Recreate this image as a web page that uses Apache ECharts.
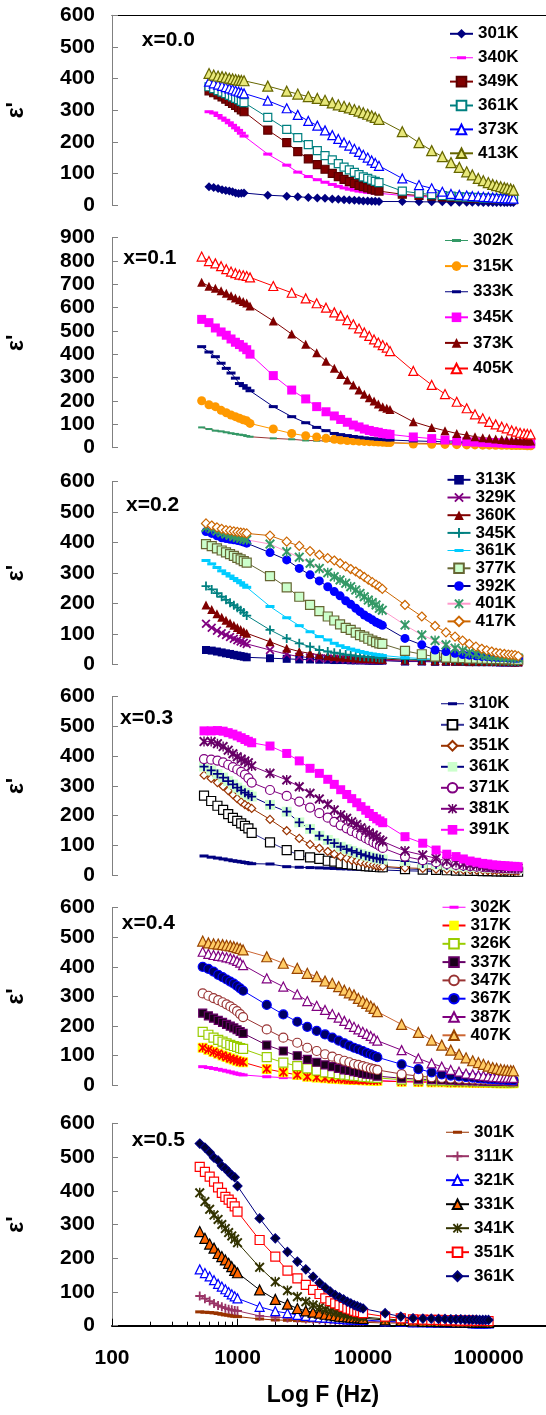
<!DOCTYPE html>
<html>
<head>
<meta charset="utf-8">
<script src="https://cdn.jsdelivr.net/npm/echarts@6/dist/echarts.min.js"></script>
<style>
  html, body { margin: 0; padding: 0; background: #fff; }
  #chart { width: 546px; height: 1415px; }
</style>
</head>
<body>
<div id="chart"></div>
<script>
// ---------- frequencies (Hz) for each composition ----------
const F1 = [593,646,700,753,806,860,913,966,1020,1073,1127,
  1742,2467,3020,3665,4325,4980,5690,6355,7060,7780,8530,9290,10050,10900,11720,12520,13400,
  20560,27930,35240,42840,50230,58500,66990,74300,82900,90900,99600,108000,116000,125000,133600,141000,150000,158000];
const F2 = [518,592,666,740,814,888,962,1036,1110,1184,1258,
  1928,2702,3494,4272,5070,5904,6638,7497,8372,9293,10240,11220,12240,13240,14350,15450,16410,
  25160,35260,45000,55800,67000,78000,89900,101400,114000,127400,139600,153000,165700,178300,191800,203800,216800];
const F3 = [561,623,686,748,810,872,935,997,1059,1122,1184,
  1815,2466,3105,3784,4487,5236,5902,6561,7278,7980,8750,9462,10233,11015,11858,12700,13490,14250,
  21600,29400,37500,45800,54100,62200,70300,79400,88300,96800,106000,114800,123600,133700,143900,153100,162600,172600];
const F4 = [541,617,692,768,843,919,995,1070,1146,1221,1297,
  1815,2466,3105,3784,4487,5236,5902,6638,7413,8128,8913,9638,10510,11220,12080,12850,13650,14350,
  21600,29900,38200,46500,55100,63000,71300,80500,89900,98600,107900,116100,125900,135200,143900,153100,162600,172000];
const F5 = [528,586,644,702,760,818,876,934,992,1050,1108,
  1710,2317,2992,3597,4276,4980,5690,6397,7096,7780,8472,9183,9950,10700,11520,12240,13000,
  20300,27600,35200,42400,50000,58200,66200,74800,83000,91000,99500,107900,116100,125000,133600,141300,150300,157800];
const F6 = [500,550,600,650,700,750,800,850,900,950,1000,
  1500,2000,2500,3000,3500,4000,4500,5000,5500,6000,6500,7000,7500,8000,8500,9000,9500,10000,
  15000,20000,25000,30000,35000,40000,45000,50000,55000,60000,65000,70000,75000,80000,85000,90000,95000,100000];

// ---------- composition labels and measuring temperatures ----------
const X_LABELS = ['x=0.0','x=0.1','x=0.2','x=0.3','x=0.4','x=0.5'];
const T1 = ['301K','340K','349K','361K','373K','413K'];
const T2 = ['302K','315K','333K','345K','373K','405K'];
const T3 = ['313K','329K','360K','345K','361K','377K','392K','401K','417K'];
const T4 = ['310K','341K','351K','361K','371K','381K','391K'];
const T5 = ['302K','317K','326K','337K','347K','367K','387K','407K'];
const T6 = ['301K','311K','321K','331K','341K','351K','361K'];

// ---------- ε' values, x = 0.0 ----------
const P1_301 = [58,55,52,48,46,44,42,38,36,37,38, 31,28,26,24,22,21,19,18,17,16,15,14,13,13,12,12,11, 11,10,10,10,9,9,9,9,9,8,8,8,8,8,8,8,8,8];
const P1_340 = [295,291,283,275,268,260,252,244,236,227,218, 161,126,104,90,80,72,65,59,54,50,47,44,42,40,39,38,37, 30,27,25,23,22,21,20,19,19,18,18,17,17,16,16,16,15,15];
const P1_349 = [361,355,348,342,335,328,321,315,308,301,295, 237,197,169,146,128,113,100,90,81,74,68,62,58,54,50,47,44, 34,30,28,26,25,24,23,22,21,21,20,20,19,19,18,18,18,17];
const P1_361 = [374,368,362,357,352,347,342,337,333,328,324, 277,239,213,191,172,156,143,131,120,111,103,96,89,84,79,75,71, 44,37,33,30,28,26,25,24,23,22,21,21,20,20,19,19,18,18];
const P1_373 = [390,385,381,377,373,369,366,362,359,356,353, 330,306,285,266,251,236,221,209,198,188,178,168,159,150,141,133,124, 84,63,53,42,35,32,30,28,27,26,25,24,23,22,22,21,21,20];
const P1_413 = [416,411,408,406,404,401,399,397,395,394,393, 376,360,351,343,337,331,323,317,312,307,302,297,292,287,282,277,271, 232,197,172,153,134,119,105,95,84,77,71,65,61,58,55,53,51,47];

// ---------- ε' values, x = 0.1 ----------
const P2_302 = [87,80,73,70,66,62,59,56,54,50,47, 40,36,31,30,29,28,27,26,25,24,24,23,23,22,22,21,21, 19,18,17,17,16,16,15,15,15,14,14,14,14,13,13,13,13];
const P2_315 = [201,184,176,160,150,140,133,126,120,115,104, 80,61,51,46,40,36,33,31,30,28,27,26,25,24,23,22,22, 16,15,14,13,12,12,11,11,10,10,10,9,9,9,9,8,8];
const P2_333 = [433,410,390,362,340,320,298,275,266,255,244, 176,133,107,87,73,61,56,52,48,45,42,40,38,36,35,34,33, 29,27,25,24,23,22,21,20,20,19,19,18,18,17,17,17,16];
const P2_345 = [550,536,513,496,482,466,452,442,431,420,401, 309,247,209,176,154,136,121,109,97,89,80,74,69,66,61,59,57, 46,39,33,29,26,24,23,22,21,20,19,19,18,18,17,17,17];
const P2_373 = [709,692,683,673,662,651,642,634,627,620,607, 543,487,443,407,371,340,314,290,269,247,229,214,200,187,176,169,164, 111,87,73,61,54,47,43,40,37,35,33,32,31,30,30,29,29];
const P2_405 = [819,800,790,778,765,755,748,742,739,736,730, 693,664,640,619,600,580,566,547,529,511,494,479,464,451,440,429,414, 329,269,230,197,169,143,126,111,100,90,83,74,69,64,61,59,57];

// ---------- ε' values, x = 0.2 ----------
const P3_313 = [47,45,42,39,36,34,31,29,27,25,23, 20,18,16,16,15,15,14,14,14,13,13,13,13,12,12,12,12,12, 9,9,8,8,8,8,7,7,7,7,7,7,6,6,6,6,6,6];
const P3_329 = [133,120,110,102,96,90,84,79,75,71,67, 47,33,25,22,20,19,18,17,16,16,15,15,14,14,14,13,13,13, 11,10,10,9,9,9,8,8,8,8,8,7,7,7,7,7,7,7];
const P3_360 = [195,180,166,155,145,136,128,121,114,108,102, 74,53,42,36,31,28,26,24,23,22,21,20,19,19,18,18,17,17, 14,13,12,12,11,11,10,10,10,10,9,9,9,9,9,8,8,8];
const P3_345 = [257,246,234,222,212,202,194,186,178,170,160, 113,85,69,58,47,42,38,35,32,30,28,26,25,24,23,22,21,21, 17,15,14,13,13,12,12,11,11,11,10,10,10,10,9,9,9,9];
const P3_361 = [341,330,318,307,298,290,282,275,268,260,253, 190,153,127,107,91,80,69,61,55,50,46,42,39,36,34,32,30,29, 22,19,17,16,15,14,14,13,13,12,12,12,11,11,11,11,10,10];
const P3_377 = [395,388,381,374,368,362,356,350,345,339,334, 290,253,222,195,175,157,144,131,120,113,104,96,91,84,78,73,69,67, 44,33,25,22,21,20,19,19,18,18,17,17,17,16,16,16,15,15];
const P3_392 = [436,430,422,416,413,411,409,407,405,402,398, 367,343,315,294,274,255,239,225,209,197,184,173,162,154,146,138,133,128, 85,64,47,42,36,32,30,28,26,25,24,23,22,22,21,21,20,20];
const P3_401 = [450,445,438,432,428,424,420,417,414,411,409, 395,370,352,332,315,301,288,277,266,255,244,233,222,211,203,195,184,178, 129,96,78,64,53,45,38,34,31,29,27,26,25,24,23,22,22,21];
const P3_417 = [463,456,450,445,441,439,437,435,433,432,430, 423,403,389,372,360,349,341,332,322,313,305,296,287,278,270,262,255,248, 195,157,126,105,91,78,67,58,51,46,42,38,36,34,32,31,30,27];

// ---------- ε' values, x = 0.3 ----------
const P4_310 = [64,60,57,54,51,48,46,44,42,40,38, 37,28,26,25,24,23,22,21,21,20,20,19,19,18,18,18,17,17, 14,13,12,12,11,11,11,10,10,10,10,9,9,9,9,9,9,9];
const P4_341 = [267,249,233,219,205,192,182,174,165,157,142, 110,84,67,59,54,48,45,39,37,35,33,32,30,29,28,27,26,26, 20,18,17,16,15,15,14,14,13,13,13,12,12,12,12,11,11,11];
const P4_351 = [336,325,311,298,284,270,257,246,237,230,224, 187,149,123,103,90,79,70,62,56,50,47,43,39,37,34,31,30,29, 24,22,20,19,18,17,17,16,16,15,15,15,14,14,14,14,13,13];
const P4_361 = [365,352,340,328,316,305,294,285,277,270,264, 236,213,177,155,132,118,107,95,87,81,75,70,65,62,58,56,54,52, 47,39,36,33,31,29,28,27,26,25,24,24,23,23,22,22,21,21];
const P4_371 = [390,388,385,379,371,363,355,347,338,326,311, 286,266,247,227,208,193,179,167,157,148,140,132,124,117,110,104,97,91, 62,50,43,37,34,32,30,28,27,26,25,24,23,23,22,22,21,21];
const P4_381 = [449,449,442,432,420,408,398,390,384,378,367, 342,320,297,275,256,238,219,202,191,179,170,159,151,142,135,129,118,113, 81,67,56,47,42,37,34,32,30,29,28,27,26,25,25,24,24,23];
const P4_391 = [485,485,486,484,479,474,468,462,456,450,445, 434,409,384,359,342,322,305,287,271,257,243,230,218,207,197,189,182,176, 129,107,84,70,62,54,47,43,39,37,34,33,32,31,30,29,29,28];

// ---------- ε' values, x = 0.4 ----------
const P5_302 = [62,59,56,53,50,47,44,41,38,36,34, 28,25,23,22,21,20,19,19,18,18,17,17,16,16,16,15,15, 12,11,11,10,10,10,9,9,9,9,8,8,8,8,8,8,8,8];
const P5_317 = [126,119,112,106,100,95,90,86,82,79,77, 54,43,34,28,25,23,21,20,19,18,17,17,16,16,15,15,14, 11,10,9,9,8,8,8,7,7,7,7,7,6,6,6,6,6,6];
const P5_326 = [180,170,160,153,147,141,136,132,129,125,122, 94,76,64,56,49,43,40,37,35,33,31,30,28,27,26,25,24, 18,16,15,14,13,13,12,12,11,11,11,10,10,10,10,10,9,9];
const P5_337 = [243,234,226,219,212,205,199,193,187,181,175, 135,115,99,87,77,68,62,56,51,49,45,43,39,37,36,34,30, 23,20,18,17,16,15,15,14,14,13,13,13,12,12,12,12,11,11];
const P5_347 = [310,302,294,287,280,273,266,258,250,240,230, 188,160,143,126,115,104,96,88,82,77,71,68,64,60,56,54,51, 37,30,26,24,22,21,20,19,18,18,17,17,16,16,15,15,15,14];
const P5_367 = [400,393,384,373,365,357,350,343,335,327,319, 271,239,214,197,183,171,160,150,141,133,126,121,115,109,104,99,94, 70,54,43,36,32,29,27,25,23,22,21,20,19,18,18,17,17,16];
const P5_387 = [451,444,440,437,435,432,429,425,420,414,406, 361,333,307,284,268,254,240,228,217,206,197,188,180,173,166,158,150, 118,90,73,62,51,45,39,36,33,31,29,28,27,26,25,25,24,24];
const P5_407 = [487,481,478,477,475,473,471,468,465,462,457, 434,412,395,378,367,352,344,333,321,312,305,293,284,276,267,259,248, 205,178,152,135,118,104,92,82,76,70,64,59,56,53,51,50,49,48];

// ---------- ε' values, x = 0.5 ----------
const P6_301 = [41,40,39,38,36,34,32,31,29,28,27, 20,17,16,15,14,14,13,13,12,12,12,11,11,11,11,10,10,10, 8,8,7,7,7,7,6,6,6,6,6,6,6,5,5,5,5,5];
const P6_311 = [88,80,73,66,60,56,52,49,47,45,44, 29,25,23,21,20,19,18,17,17,16,16,15,15,15,14,14,14,14, 11,10,9,9,9,8,8,8,8,7,7,7,7,7,7,7,7,7];
const P6_321 = [167,156,146,135,124,116,108,100,93,87,81, 56,43,37,32,29,27,25,24,23,22,21,20,19,19,18,18,17,17, 13,11,10,10,9,9,9,8,8,8,8,8,7,7,7,7,7,7];
const P6_331 = [279,259,242,230,214,205,195,185,175,164,157, 106,78,64,51,44,40,37,34,32,30,28,27,26,25,24,23,23,22, 17,15,14,13,13,12,12,12,11,11,11,11,10,10,10,10,10,10];
const P6_341 = [394,368,345,328,315,300,288,276,266,257,246, 173,130,104,86,71,61,54,48,43,40,37,34,32,30,29,28,27,26, 20,17,16,15,14,14,13,13,13,12,12,12,12,11,11,11,11,11];
const P6_351 = [471,456,442,427,410,394,382,374,364,354,338, 254,205,163,140,121,106,94,81,73,66,61,56,51,48,44,41,40,37, 27,22,19,18,17,17,16,16,16,15,15,15,15,14,14,14,14,14];
const P6_361 = [540,528,514,498,490,474,466,456,446,440,414, 318,259,219,190,167,145,127,113,101,91,84,78,71,66,61,58,54,51, 37,27,22,21,21,20,20,19,19,19,18,18,18,18,17,17,17,17];

// axis ticks
const Y_MAX = [600, 900, 600, 600, 600, 600];
const X_MAJOR = [100, 1000, 10000, 100000];
const X_MINOR = [200,300,400,500,600,700,800,900, 2000,3000,4000,5000,6000,7000,8000,9000,
                 20000,30000,40000,50000,60000,70000,80000,90000];

// ---------- marker styles ----------
const SYMBOL_PATH = {
  plus: 'path://M4,0H6V4H10V6H6V10H4V6H0V4H4Z',
  cross: 'path://M1.4,0L5,3.6L8.6,0L10,1.4L6.4,5L10,8.6L8.6,10L5,6.4L1.4,10L0,8.6L3.6,5L0,1.4Z',
  star: 'path://M1.4,0L5,3.6L8.6,0L10,1.4L6.4,5L10,8.6L8.6,10L5,6.4L1.4,10L0,8.6L3.6,5L0,1.4Z M4.3,0H5.7V10H4.3Z'
};
const DASH_ICON = 'path://M0,5.5H23V6.5H0Z M7,4.5H16V7.5H7Z';

const S1 = [
  {line:'#000080', sym:'diamond', size:9, fill:'#000080'},
  {line:'#ff00ff', sym:'dash', fill:'#ff00ff'},
  {line:'#800000', sym:'rect', size:8, fill:'#800000', border:'#5a0000'},
  {line:'#008080', sym:'rect', size:8, fill:'#ffffff', border:'#008080'},
  {line:'#0000ff', sym:'triangle', size:9, fill:'#ffffff', border:'#0000ff'},
  {line:'#666600', sym:'triangle', size:10, fill:'#e8e87a', border:'#666600'}
];
const S2 = [
  {line:'#993333', sym:'dash', size:[7,2], fill:'#339966'},
  {line:'#ff9900', sym:'circle', size:9, fill:'#ff9900'},
  {line:'#000080', sym:'dash', fill:'#000080'},
  {line:'#ff00ff', sym:'rect', size:9, fill:'#ff00ff'},
  {line:'#800000', sym:'triangle', size:9, fill:'#800000'},
  {line:'#ff0000', sym:'triangle', size:9, fill:'#ffffff', border:'#ff0000'}
];
const S3 = [
  {line:'#000080', sym:'rect', size:8, fill:'#000080'},
  {line:'#800080', sym:'cross', size:9, fill:'#800080'},
  {line:'#800000', sym:'triangle', size:9, fill:'#800000'},
  {line:'#008080', sym:'plus', size:9, fill:'#008080'},
  {line:'#00ccff', sym:'dash', fill:'#00ccff'},
  {line:'#666633', sym:'rect', size:9, fill:'#ccffcc', border:'#666633'},
  {line:'#000080', sym:'circle', size:9, fill:'#0000ff'},
  {line:'#ff99cc', sym:'star', size:10, fill:'#339966'},
  {line:'#cc6600', sym:'diamond', size:9, fill:'#ffffff', border:'#cc6600'}
];
const S4 = [
  {line:'#000080', sym:'dash', fill:'#000080'},
  {line:'#333399', sym:'rect', size:9, fill:'#ffffff', border:'#000000'},
  {line:'#993300', sym:'diamond', size:8, fill:'#ffffff', border:'#993300'},
  {line:'#000080', sym:'plus', size:10, fill:'#000080', back:'#ccffcc'},
  {line:'#800080', sym:'circle', size:9, fill:'#ffffff', border:'#800080'},
  {line:'#800080', sym:'star', size:10, fill:'#660066'},
  {line:'#ff00ff', sym:'rect', size:9, fill:'#ff00ff'}
];
const S5 = [
  {line:'#ff00ff', sym:'dash', fill:'#ff00ff'},
  {line:'#ff0000', sym:'star', size:10, fill:'#ff0000', back:'#ffff00'},
  {line:'#99cc00', sym:'rect', size:9, fill:'#ffffff', border:'#99cc00'},
  {line:'#660066', sym:'rect', size:8, fill:'#1a001a', border:'#660066'},
  {line:'#993333', sym:'circle', size:9, fill:'#ffffff', border:'#993333'},
  {line:'#0000ff', sym:'circle', size:9, fill:'#000066', border:'#0000ff'},
  {line:'#800080', sym:'triangle', size:9, fill:'#ffffff', border:'#800080'},
  {line:'#cc6633', sym:'triangle', size:10, fill:'#ffcc66', border:'#994400'}
];
const S6 = [
  {line:'#993300', sym:'dash', fill:'#993300'},
  {line:'#993366', sym:'plus', size:9, fill:'#993366'},
  {line:'#0000ff', sym:'triangle', size:9, fill:'#ffffff', border:'#0000ff'},
  {line:'#000000', sym:'triangle', size:10, fill:'#ff6600', border:'#000000'},
  {line:'#333300', sym:'star', size:10, fill:'#333300'},
  {line:'#ff0000', sym:'rect', size:9, fill:'#ffffff', border:'#ff0000'},
  {line:'#000080', sym:'diamond', size:9, fill:'#000033', border:'#000080'}
];

// ---------- panel layout ----------
const GRID_BOX = [
  {top:15.3, height:189.7}, {top:237.7, height:210}, {top:481.7, height:182.6},
  {top:696.7, height:178.3}, {top:907.7, height:177.3}, {top:1123.3, height:202.4}
];
const LEGEND_BOX = [
  {left:449, top:25.3, gap:6.9}, {left:444, top:232, gap:8.6}, {left:446.5, top:471.3, gap:0.7},
  {left:440, top:695.3, gap:4}, {left:441.5, top:898.7, gap:1.3}, {left:445, top:1123.7, gap:7}
];
const LABEL_BOX = [
  {left:141.7, top:29}, {left:123.3, top:247}, {left:126, top:494},
  {left:120, top:707}, {left:121.7, top:912}, {left:131.7, top:1129}
];

const PANELS = [
  {freqs:F1, temps:T1, styles:S1, values:[P1_301,P1_340,P1_349,P1_361,P1_373,P1_413]},
  {freqs:F2, temps:T2, styles:S2, values:[P2_302,P2_315,P2_333,P2_345,P2_373,P2_405]},
  {freqs:F3, temps:T3, styles:S3, values:[P3_313,P3_329,P3_360,P3_345,P3_361,P3_377,P3_392,P3_401,P3_417]},
  {freqs:F4, temps:T4, styles:S4, values:[P4_310,P4_341,P4_351,P4_361,P4_371,P4_381,P4_391]},
  {freqs:F5, temps:T5, styles:S5, values:[P5_302,P5_317,P5_326,P5_337,P5_347,P5_367,P5_387,P5_407]},
  {freqs:F6, temps:T6, styles:S6, values:[P6_301,P6_311,P6_321,P6_331,P6_341,P6_351,P6_361]}
];

const FONT = "'Liberation Sans', Arial, Helvetica, sans-serif";
const X_MIN = 100, X_MAX = 287000;
const LAST = PANELS.length - 1;

const grids = [], xAxes = [], yAxes = [], series = [], legends = [], titles = [];

PANELS.forEach((p, gi) => {
  grids.push({left:112, right:0, top:GRID_BOX[gi].top, height:GRID_BOX[gi].height,
              containLabel:false, outerBoundsMode:'none'});

  const isBottom = gi === LAST;
  const xa = {gridIndex:gi, type:'log', logBase:10, min:X_MIN, max:X_MAX,
              splitLine:{show:false}, axisPointer:{show:false}};
  if (isBottom) {
    Object.assign(xa, {
      position:'bottom',
      axisLine:{show:true, onZero:false, lineStyle:{color:'#000', width:2}},
      axisTick:{show:true, inside:true, length:7, customValues:X_MAJOR, lineStyle:{color:'#000', width:1}},
      axisLabel:{show:true, customValues:X_MAJOR, margin:22, fontSize:21, fontWeight:'bold',
                 color:'#000', fontFamily:FONT, formatter:(v) => String(Math.round(v))},
      name:'Log F (Hz)', nameLocation:'middle', nameGap:58,
      nameTextStyle:{fontSize:23, fontWeight:'bold', color:'#000', fontFamily:FONT, padding:[0,12,0,0]}
    });
  } else if (gi === 0) {
    Object.assign(xa, {
      position:'top',
      axisLine:{show:true, onZero:false, lineStyle:{color:'#000', width:1}},
      axisTick:{show:false}, axisLabel:{show:false}
    });
  } else {
    Object.assign(xa, {axisLine:{show:false}, axisTick:{show:false}, axisLabel:{show:false}});
  }
  xAxes.push(xa);

  yAxes.push({
    gridIndex:gi, type:'value', min:0, max:Y_MAX[gi], interval:100,
    axisLine:{show:true, onZero:false, lineStyle:{color:'#808080', width:1}},
    axisTick:{show:true, inside:true, length:6, lineStyle:{color:'#808080'}},
    splitLine:{show:false},
    axisLabel:{fontSize:21, fontWeight:'bold', color:'#000', margin:17, fontFamily:FONT},
    name:"ε'", nameLocation:'middle', nameGap:84, nameRotate:90, nameMoveOverlap:false,
    nameTextStyle:{fontSize:23, fontWeight:'bold', color:'#000', fontFamily:FONT}
  });

  const legendData = [];
  p.temps.forEach((t, si) => {
    const st = p.styles[si];
    const name = gi + '|' + t;
    const data = p.freqs.map((f, k) => [f, p.values[si][k]]);
    const isDash = st.sym === 'dash';
    const sym = isDash ? 'rect' : (SYMBOL_PATH[st.sym] || st.sym);
    const size = isDash ? (st.size || [9, 3]) : st.size;
    const base = {
      type:'line', name, xAxisIndex:gi, yAxisIndex:gi, data,
      showSymbol:true, showAllSymbol:true, animation:false, silent:true,
      emphasis:{disabled:true}, lineStyle:{color:st.line, width:1}
    };
    if (st.back) {
      series.push(Object.assign({}, base, {
        symbol:'rect', symbolSize:st.size,
        itemStyle:{color:st.back, borderWidth:0}
      }));
      series.push(Object.assign({}, base, {
        name: name + '|mark', symbol:sym, symbolSize:st.size - 1,
        lineStyle:{width:0, opacity:0},
        itemStyle:{color:st.fill, borderWidth:0}
      }));
    } else {
      series.push(Object.assign({}, base, {
        symbol:sym, symbolSize:size,
        itemStyle:{color:st.fill, borderColor:st.border || st.fill, borderWidth:st.border ? 1.2 : 0}
      }));
    }
    legendData.push(isDash ? {name, icon:DASH_ICON} : name);
  });

  legends.push({
    data:legendData, orient:'vertical', left:LEGEND_BOX[gi].left, top:LEGEND_BOX[gi].top,
    itemWidth:23, itemHeight:12, itemGap:LEGEND_BOX[gi].gap, padding:0, selectedMode:false,
    formatter:(n) => n.split('|')[1],
    textStyle:{fontSize:17, fontWeight:'bold', color:'#000', lineHeight:16, fontFamily:FONT}
  });

  titles.push({
    text:X_LABELS[gi], left:LABEL_BOX[gi].left, top:LABEL_BOX[gi].top, padding:0,
    textStyle:{fontSize:21, fontWeight:'bold', color:'#000', lineHeight:22, fontFamily:FONT}
  });
});

// minor decade ticks on the bottom frequency axis
xAxes.push({
  gridIndex:LAST, type:'log', logBase:10, min:X_MIN, max:X_MAX, position:'bottom',
  axisLine:{show:false}, splitLine:{show:false}, axisLabel:{show:false},
  axisTick:{show:true, inside:true, length:4, customValues:X_MINOR, lineStyle:{color:'#000', width:1}}
});

const chart = echarts.init(document.getElementById('chart'), null, {renderer:'canvas'});
chart.setOption({
  animation:false,
  backgroundColor:'#ffffff',
  textStyle:{fontFamily:FONT},
  title:titles,
  grid:grids,
  xAxis:xAxes,
  yAxis:yAxes,
  legend:legends,
  series:series
});
</script>
</body>
</html>
